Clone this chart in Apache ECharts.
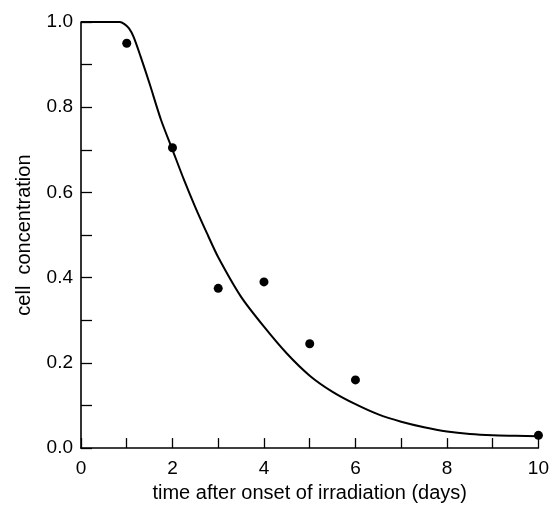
<!DOCTYPE html>
<html>
<head>
<meta charset="utf-8">
<script src="https://cdn.jsdelivr.net/npm/echarts@6/dist/echarts.min.js"></script>
<style>
html,body{margin:0;padding:0;background:#fff;}
#c{width:552px;height:508px;}
</style>
</head>
<body>
<div id="c"></div>
<script>
// Measured data points
const pointX = [1, 2, 3, 4, 5, 6, 10];
const pointY = [0.95, 0.705, 0.375, 0.39, 0.245, 0.16, 0.03];

// Fitted curve
const curveX = [0, 0.85, 0.95, 1.05, 1.15, 1.3, 1.5, 1.75, 2.0, 2.25, 2.5, 2.75, 3.0, 3.5, 4.0, 4.5, 5.0, 5.5, 6.0, 6.5, 7.0, 7.5, 8.0, 8.5, 9.0, 9.5, 10];
const curveY = [1.0, 1.0, 0.995, 0.985, 0.965, 0.92, 0.855, 0.77, 0.70, 0.63, 0.565, 0.505, 0.448, 0.355, 0.285, 0.222, 0.17, 0.132, 0.103, 0.079, 0.062, 0.049, 0.039, 0.033, 0.030, 0.029, 0.028];

const xLabel = 'time after onset of irradiation (days)';
const yLabel = 'cell  concentration';

const FONT = '"Liberation Sans", Arial, Helvetica, sans-serif';

const chart = echarts.init(document.getElementById('c'), null, {renderer: 'canvas'});
chart.setOption({
  animation: false,
  backgroundColor: '#fff',
  grid: {left: 81, right: 13, top: 22, bottom: 55, containLabel: false},
  xAxis: {
    type: 'value', min: 0, max: 10, interval: 1,
    name: xLabel, nameLocation: 'middle', nameGap: 33,
    nameTextStyle: {color: '#000', fontSize: 20, fontFamily: FONT},
    axisLine: {show: true, onZero: false, lineStyle: {color: '#000', width: 1.6}},
    axisTick: {show: true, inside: true, length: 10, lineStyle: {color: '#000', width: 1.3}},
    axisLabel: {
      color: '#000', fontSize: 19, fontFamily: FONT, margin: 11,
      formatter: v => (Math.round(v) % 2 === 0 ? String(Math.round(v)) : '')
    },
    splitLine: {show: false}
  },
  yAxis: {
    type: 'value', min: 0, max: 1, interval: 0.1,
    name: yLabel, nameLocation: 'middle', nameGap: 47,
    nameTextStyle: {color: '#000', fontSize: 20, fontFamily: FONT},
    axisLine: {show: true, onZero: false, lineStyle: {color: '#000', width: 1.6}},
    axisTick: {show: true, inside: true, length: 11, lineStyle: {color: '#000', width: 1.3}},
    axisLabel: {
      color: '#000', fontSize: 19, fontFamily: FONT, margin: 8,
      formatter: v => (Math.round(v * 10) % 2 === 0 ? v.toFixed(1) : '')
    },
    splitLine: {show: false}
  },
  series: [
    {
      type: 'line',
      data: curveX.map((x, i) => [x, curveY[i]]),
      smooth: 0.25,
      showSymbol: false,
      lineStyle: {color: '#000', width: 2},
      z: 2
    },
    {
      type: 'scatter',
      data: pointX.map((x, i) => [x, pointY[i]]),
      symbol: 'circle',
      symbolSize: 9,
      itemStyle: {color: '#000', opacity: 1},
      z: 3
    }
  ]
});
</script>
</body>
</html>
